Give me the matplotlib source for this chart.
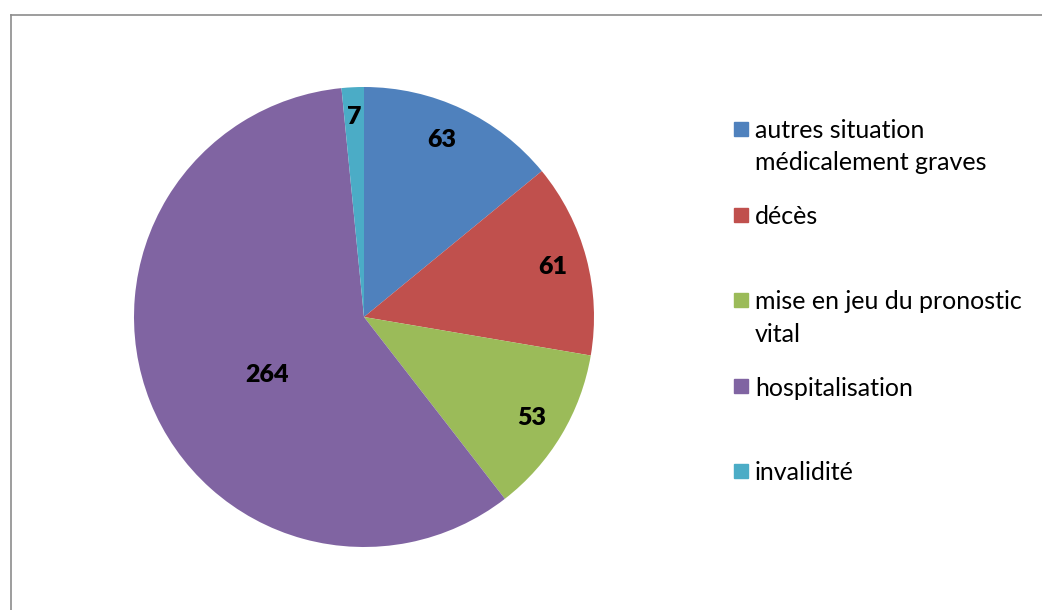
import numpy as np
import matplotlib
matplotlib.use('Agg')
import matplotlib.pyplot as plt
from matplotlib.patches import Rectangle
from matplotlib.lines import Line2D

###########################################
# Data
###########################################

labels = ['autres situation\nmédicalement graves', 'décès',
          'mise en jeu du pronostic\nvital', 'hospitalisation', 'invalidité']
values = [63, 61, 53, 264, 7]
colors = ['#4F81BD', '#C0504D', '#9BBB59', '#8064A2', '#4BACC6']
label_r = [0.84, 0.85, 0.85, 0.49, 0.87]  # radial position of value labels
label_da = [1.5, 0, 0, 9, 0]               # angle shift (deg) of value labels

plt.rcParams['font.family'] = ['Lato', 'DejaVu Sans']

W, H = 1042, 610
fig = plt.figure(figsize=(W/100, H/100), dpi=100)

###########################################
# Pie
###########################################

cx, cy, r = 364, 317, 230
ax = fig.add_axes([(cx-r)/W, (H-cy-r)/H, 2*r/W, 2*r/H])
wedges, _ = ax.pie(values, colors=colors, startangle=90, counterclock=False,
                   radius=1, wedgeprops=dict(linewidth=0))
ax.set_xlim(-1, 1)
ax.set_ylim(-1, 1)
ax.set_aspect('equal')
ax.axis('off')

for w, v, lr, da in zip(wedges, values, label_r, label_da):
    a = np.deg2rad((w.theta1 + w.theta2)/2 + da)
    ax.text(lr*np.cos(a), lr*np.sin(a), str(v), ha='center', va='center',
            fontsize=18, fontweight='heavy', color='black')

###########################################
# Legend (drawn by hand)
###########################################

ys = [131, 217, 302, 388, 473]
for lab, c, y in zip(labels, colors, ys):
    fig.add_artist(Rectangle((734/W, (H-y-5)/H), 14/W, 14/H, color=c,
                             transform=fig.transFigure))
    for i, line in enumerate(lab.split('\n')):
        fig.text(755/W, (H-y-32*i)/H, line, ha='left', va='center',
                 fontsize=18, transform=fig.transFigure)

###########################################
# Frame
###########################################

fig.add_artist(Line2D([10.5/W, 1.0], [(H-14.5)/H]*2, color='#8c8c8c', lw=1.2))
fig.add_artist(Line2D([10.5/W]*2, [0, (H-14.5)/H], color='#8c8c8c', lw=1.2))

fig.savefig('out.png', dpi=100)
